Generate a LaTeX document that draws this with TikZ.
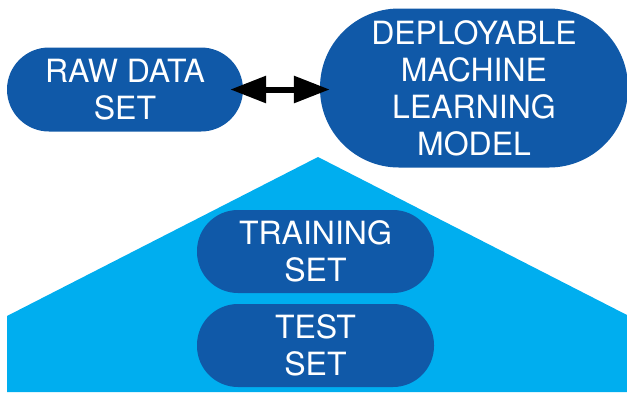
\documentclass[tikz,border=0pt]{standalone}
\usepackage{fontspec}
\setmainfont{TeX Gyre Heros}
\usetikzlibrary{arrows.meta}
\definecolor{darkblue}{RGB}{16,89,168}
\definecolor{lightblue}{RGB}{0,174,239}
\begin{document}
\begin{tikzpicture}[x=1pt,y=-1pt,
  pill/.style={fill=darkblue, text=white, align=center, inner sep=0pt,
    font=\fontsize{32}{37}\selectfont},
  >={Triangle[length=36pt,width=26pt]}]
\path[use as bounding box] (0,0) rectangle (627,392);
\clip (0,0) rectangle (627,392);
\fill[lightblue] (7,392) -- (7,316) -- (318,157) -- (627,315) -- (627,392) -- cycle;
\node[pill, minimum width=236pt, minimum height=84pt, rounded corners=42pt] (raw) at (125,89.5) {RAW DATA\\SET};
\node[pill, minimum width=308pt, minimum height=159pt, rounded corners=79pt] (deploy) at (474,88) {DEPLOYABLE\\MACHINE\\LEARNING\\MODEL};
\node[pill, minimum width=237pt, minimum height=83pt, rounded corners=41pt] (train) at (315.5,251.5) {TRAINING\\SET};
\node[pill, minimum width=237pt, minimum height=83pt, rounded corners=41pt] (test) at (315.5,345.5) {TEST\\SET};
\draw[line width=6pt, <->, shorten <=-13pt, shorten >=-10pt] (raw.east) -- (deploy.west |- raw.east);
\end{tikzpicture}
\end{document}
